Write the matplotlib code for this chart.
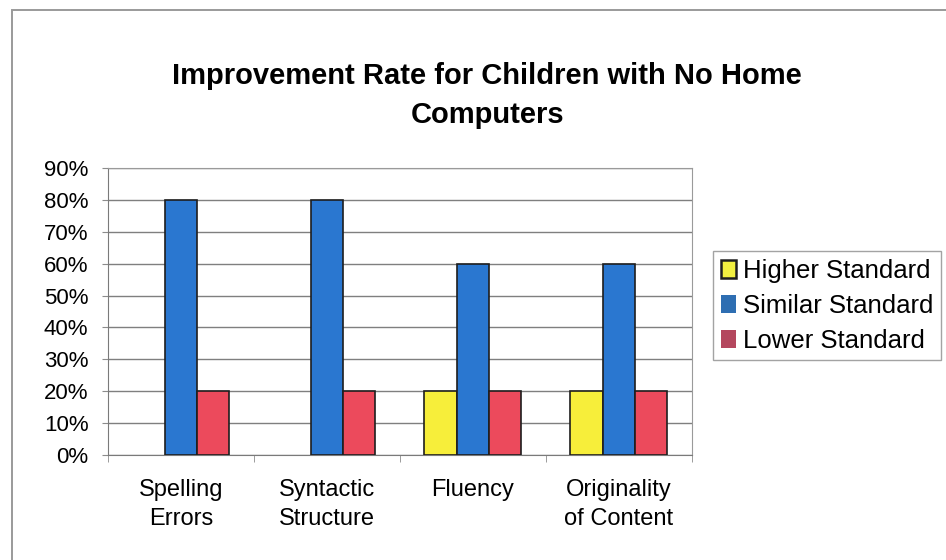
import matplotlib
matplotlib.use("Agg")
import matplotlib.pyplot as plt
from matplotlib.patches import Rectangle
import numpy as np

categories = ["Spelling\nErrors", "Syntactic\nStructure", "Fluency", "Originality\nof Content"]
series = ["Higher Standard", "Similar Standard", "Lower Standard"]
higher = [0.0, 0.0, 0.2, 0.2]
similar = [0.8, 0.8, 0.6, 0.6]
lower = [0.2, 0.2, 0.2, 0.2]
values = [higher, similar, lower]

bar_colors = ["#F7EE3A", "#2A77D0", "#EC4A5C"]
legend_colors = ["#F2F040", "#2E6EB2", "#B4475E"]

plt.rcParams["font.family"] = ["Liberation Sans", "DejaVu Sans"]

fig = plt.figure(figsize=(9.46, 5.6), dpi=100)
# outer chart border (only left and top edges fall inside the picture)
fig.patches.append(Rectangle((0.0127, -0.05), 1.1, 1.032, transform=fig.transFigure,
                             fill=False, edgecolor="#9a9a9a", linewidth=1.4))

ax = fig.add_axes([0.114, 0.1875, 0.617, 0.5125])
x = np.arange(len(categories))
w = 0.22
for i, (vals, col) in enumerate(zip(values, bar_colors)):
    vals = np.array(vals)
    xs = x + (i - 1) * w
    mask = vals > 0
    ax.bar(xs[mask], vals[mask], width=w, color=col, edgecolor="#1e1e1e", linewidth=1.2,
           label=series[i], zorder=3)

ax.set_xlim(-0.5, len(categories) - 0.5)
ax.set_ylim(0, 0.9)
ticks = np.arange(0, 0.91, 0.1)
ax.set_yticks(ticks)
ax.set_yticklabels([f"{int(round(v * 100))}%" for v in ticks], fontsize=16)
ax.yaxis.grid(True, color="#7f7f7f", linewidth=1.0, zorder=0)
ax.set_xticks(x)
ax.set_xticklabels(categories, fontsize=17, linespacing=1.45)
ax.tick_params(axis="x", length=0, pad=17)
ax.set_xticks(np.arange(-0.5, len(categories), 1), minor=True)
ax.tick_params(axis="x", which="minor", length=5, color="#8c8c8c")
ax.tick_params(axis="y", length=4, color="#8c8c8c", pad=10)
for s in ax.spines.values():
    s.set_color("#9a9a9a")
ax.spines["left"].set_color("#7a7a7a")
ax.spines["bottom"].set_color("#7a7a7a")

fig.text(0.515, 0.83, "Improvement Rate for Children with No Home\nComputers", fontsize=21,
         fontweight="bold", ha="center", va="center", linespacing=1.5)

handles = [Rectangle((0, 0), 1, 1, facecolor=c, edgecolor="#1e1e1e" if i == 0 else c,
                     linewidth=1.8 if i == 0 else 0) for i, c in enumerate(legend_colors)]
leg = fig.legend(handles, series, loc="center left", bbox_to_anchor=(0.754, 0.454),
                 fontsize=18.5, frameon=True, fancybox=False, edgecolor="#8c8c8c",
                 handlelength=0.6, handleheight=0.7, handletextpad=0.25, borderpad=0.3,
                 labelspacing=0.42, borderaxespad=0)
leg.get_frame().set_linewidth(1.0)

fig.savefig("out.png", dpi=100)
